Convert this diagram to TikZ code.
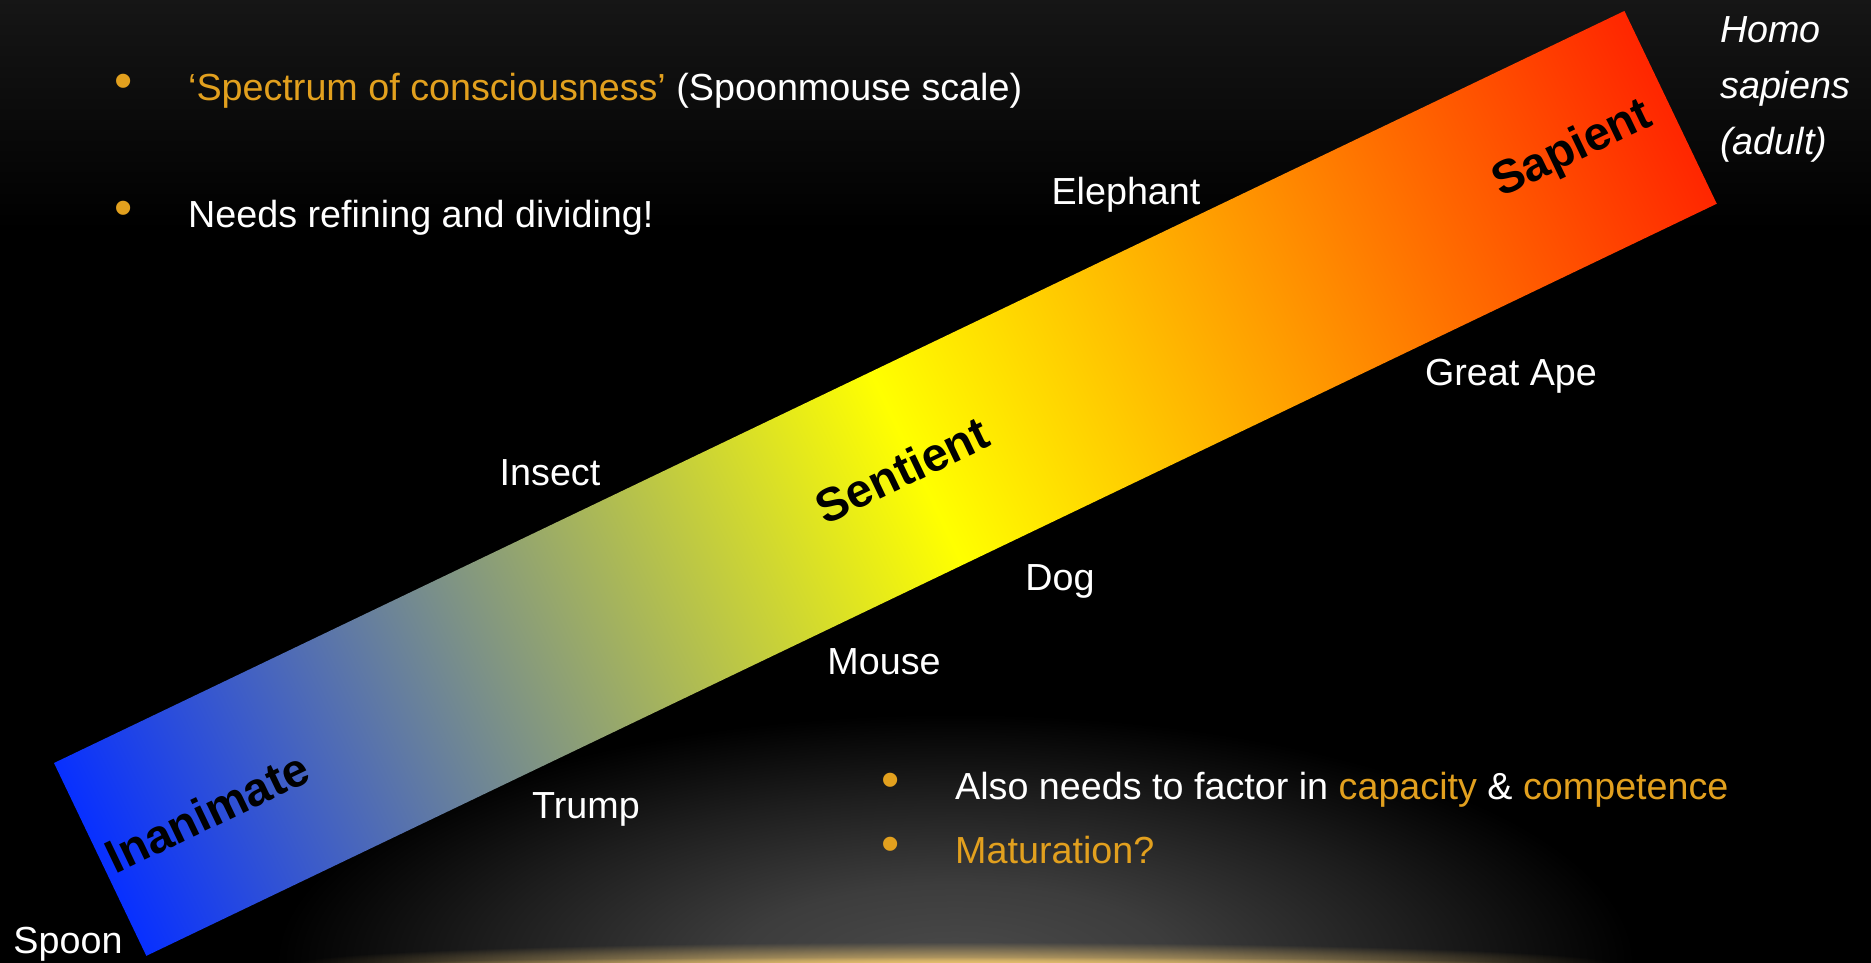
\documentclass[tikz,border=0pt]{standalone}
\usepackage{fontspec}
\setmainfont{Liberation Sans}
\usetikzlibrary{fadings}
\definecolor{goldtxt}{RGB}{226,160,30}
\definecolor{bandblue}{RGB}{8,48,255}
\definecolor{bandyellow}{RGB}{255,255,0}
\definecolor{bandred}{RGB}{255,38,0}
\definecolor{glowgray}{RGB}{74,74,74}
\definecolor{topgray}{RGB}{22,22,22}
\definecolor{goldline}{RGB}{236,196,110}
\pgfdeclarehorizontalshading{bandshade}{100bp}{color(0bp)=(bandblue); color(25bp)=(bandblue); color(51bp)=(bandyellow); color(75bp)=(bandred); color(100bp)=(bandred)}
\pgfdeclareradialshading{glowshade}{\pgfpoint{0bp}{0bp}}{color(0bp)=(glowgray); color(8bp)=(glowgray!82!black); color(17bp)=(glowgray!40!black); color(25bp)=(black); color(50bp)=(black)}
\tikzfading[name=glowfade, inner color=transparent!10, outer color=transparent!100]
\tikzset{
  lbl/.style={text=white, font=\fontsize{37.7}{45}\selectfont, inner sep=0pt, anchor=base},
  bigword/.style={text=black, font=\fontsize{47}{56}\selectfont\bfseries, inner sep=0pt, rotate=25.6},
  bullettext/.style={text=white, font=\fontsize{37.7}{45}\selectfont, inner sep=0pt, anchor=base west},
  bulletdot/.style={text=goldtxt, font=\fontsize{52}{60}\selectfont, inner sep=0pt, anchor=center},
}
\begin{document}
\begin{tikzpicture}[x=1pt,y=-1pt]
\useasboundingbox (0,0) rectangle (1871,962);
\fill[black] (-6,-6) rectangle (1877,968);
\begin{scope}
\clip (-2,-2) rectangle (1873,964);
% background
\shade[top color=topgray, bottom color=black] (-2,-2) rectangle (1873,230);
\shade[shading=glowshade] (955,964) ellipse (680 and 250);
\fill[goldline, path fading=glowfade] (955,964) ellipse (660 and 22);
\fill[goldline, path fading=glowfade] (955,964) ellipse (580 and 7);
% band
\begin{scope}[transform canvas={shift={(54,763)}, rotate=25.59}]
\shade[shading=bandshade] (0,0) rectangle (1741.3,213.8);
\end{scope}
\end{scope}
% band words
\node[bigword] (inan) at (207,812) {Inanimate};
\node[bigword] (sent) at (902,470) {Sentient};
\node[bigword] (sapi) at (1573,150) {Sapient};
% labels
\node[lbl] (spoon) at (68,953) {Spoon};
\node[lbl] (trump) at (586,818) {Trump};
\node[lbl] (insect) at (550,485) {Insect};
\node[lbl] (mouse) at (884,674) {Mouse};
\node[lbl] (dog) at (1060,590) {Dog};
\node[lbl] (eleph) at (1126,204) {Elephant};
\node[lbl] (ape) at (1511,385) {Great Ape};
\node[text=white, font=\fontsize{37.7}{56}\selectfont\itshape, inner sep=0pt, anchor=north west, align=left] (homo) at (1720,16) {Homo\\sapiens\\(adult)};
% bullets top
\node[bulletdot] (b1) at (124,86) {•};
\node[bullettext] (t1) at (188,100) {\textcolor{goldtxt}{‘Spectrum of consciousness’} (Spoonmouse scale)};
\node[bulletdot] (b2) at (124,213) {•};
\node[bullettext] (t2) at (188,227) {Needs refining and dividing!};
% bullets bottom
\node[bulletdot] (b3) at (891,785) {•};
\node[bullettext] (t3) at (955,799) {Also needs to factor in \textcolor{goldtxt}{capacity} \& \textcolor{goldtxt}{competence}};
\node[bulletdot] (b4) at (891,849) {•};
\node[bullettext] (t4) at (955,863) {\textcolor{goldtxt}{Maturation?}};
\end{tikzpicture}
\end{document}
